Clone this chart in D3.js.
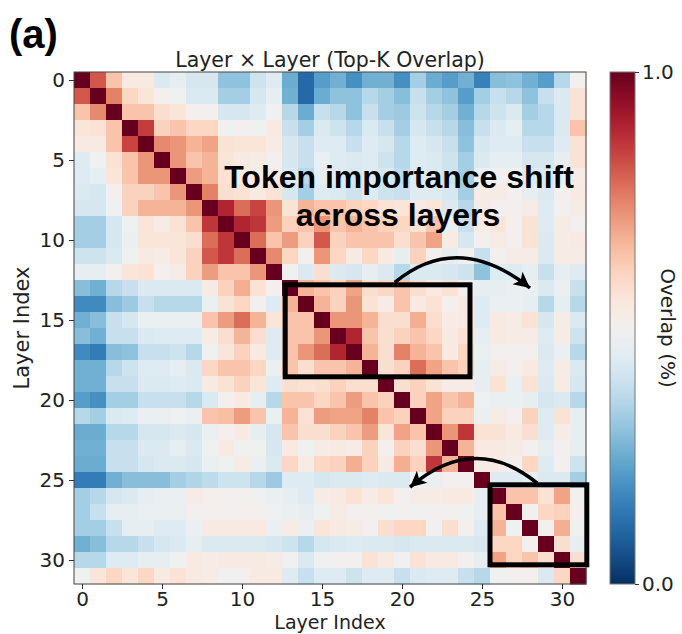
<!DOCTYPE html>
<html lang="en">
<head>
<meta charset="UTF-8">
<title>Layer x Layer (Top-K Overlap)</title>
<style>
  body { margin: 0; background: #fff; }
  svg { display: block; }
  .tick text { font-family: "DejaVu Sans", sans-serif; font-size: 20px; fill: #222; }
  .tick line { stroke: #333; }
  .domain { display: none; }
</style>
</head>
<body>
<div id="chart"></div>
<script src="https://d3js.org/d3.v7.min.js"></script>
<script>
// layer indices (rows = query layer, cols = compared layer)
const layers = [0,1,2,3,4,5,6,7,8,9,10,11,12,13,14,15,16,17,18,19,20,21,22,23,24,25,26,27,28,29,30,31];
const axisTicks = [0, 5, 10, 15, 20, 25, 30];
const colorTicks = [0.0, 1.0];

// top-k overlap (row by row)
const overlap = [
  [1.0,0.81,0.64,0.54,0.54,0.43,0.46,0.42,0.42,0.3,0.3,0.4,0.44,0.25,0.11,0.22, 0.26,0.19,0.26,0.26,0.19,0.33,0.25,0.22,0.26,0.16,0.29,0.3,0.26,0.22,0.36,0.5],
  [0.81,1.0,0.75,0.6,0.56,0.5,0.49,0.43,0.43,0.33,0.33,0.42,0.46,0.26,0.11,0.25, 0.3,0.3,0.36,0.33,0.29,0.39,0.33,0.3,0.22,0.33,0.39,0.36,0.3,0.39,0.43,0.57],
  [0.64,0.74,1.0,0.64,0.64,0.58,0.56,0.5,0.5,0.42,0.42,0.44,0.49,0.36,0.25,0.39, 0.36,0.3,0.39,0.33,0.32,0.4,0.36,0.33,0.26,0.36,0.4,0.43,0.33,0.36,0.43,0.57],
  [0.56,0.57,0.64,1.0,0.85,0.61,0.64,0.6,0.6,0.49,0.5,0.49,0.54,0.39,0.33,0.43, 0.4,0.36,0.43,0.39,0.33,0.42,0.39,0.36,0.29,0.39,0.43,0.46,0.36,0.36,0.43,0.64],
  [0.54,0.54,0.64,0.84,1.0,0.74,0.72,0.67,0.7,0.57,0.56,0.56,0.53,0.42,0.39,0.44, 0.44,0.39,0.44,0.42,0.36,0.44,0.42,0.39,0.3,0.42,0.44,0.44,0.39,0.39,0.44,0.57],
  [0.44,0.49,0.57,0.64,0.72,1.0,0.72,0.64,0.67,0.56,0.54,0.53,0.5,0.42,0.39,0.47, 0.44,0.43,0.44,0.4,0.36,0.44,0.43,0.4,0.33,0.43,0.46,0.46,0.42,0.42,0.46,0.57],
  [0.44,0.46,0.56,0.64,0.72,0.72,1.0,0.71,0.67,0.57,0.53,0.53,0.53,0.43,0.36,0.46, 0.44,0.42,0.44,0.42,0.37,0.44,0.43,0.4,0.33,0.47,0.5,0.49,0.44,0.43,0.47,0.53],
  [0.43,0.42,0.5,0.61,0.61,0.64,0.72,1.0,0.75,0.58,0.57,0.54,0.57,0.42,0.33,0.44, 0.43,0.4,0.44,0.4,0.39,0.44,0.44,0.42,0.33,0.53,0.53,0.5,0.46,0.43,0.5,0.54],
  [0.42,0.42,0.49,0.61,0.67,0.67,0.67,0.72,1.0,0.89,0.78,0.84,0.72,0.57,0.67,0.64, 0.64,0.61,0.6,0.57,0.56,0.54,0.56,0.43,0.36,0.53,0.5,0.5,0.53,0.44,0.5,0.53],
  [0.33,0.33,0.42,0.49,0.56,0.53,0.57,0.64,0.86,1.0,0.89,0.86,0.71,0.61,0.64,0.72, 0.64,0.67,0.64,0.61,0.6,0.57,0.64,0.47,0.39,0.53,0.56,0.5,0.57,0.44,0.53,0.5],
  [0.33,0.33,0.42,0.47,0.56,0.56,0.56,0.58,0.78,0.86,1.0,0.78,0.64,0.71,0.61,0.81, 0.61,0.64,0.64,0.64,0.58,0.64,0.7,0.53,0.42,0.5,0.53,0.5,0.57,0.43,0.53,0.54],
  [0.4,0.4,0.43,0.49,0.54,0.53,0.56,0.61,0.81,0.86,0.78,1.0,0.74,0.6,0.5,0.72, 0.6,0.54,0.6,0.54,0.46,0.61,0.5,0.46,0.5,0.39,0.5,0.53,0.53,0.43,0.53,0.53],
  [0.46,0.46,0.5,0.56,0.57,0.5,0.53,0.61,0.71,0.64,0.64,0.72,1.0,0.49,0.43,0.58, 0.43,0.42,0.46,0.43,0.36,0.43,0.43,0.42,0.4,0.3,0.44,0.44,0.46,0.39,0.46,0.44],
  [0.29,0.26,0.36,0.39,0.43,0.43,0.43,0.43,0.54,0.61,0.68,0.57,0.5,1.0,0.67,0.64, 0.61,0.7,0.58,0.6,0.64,0.58,0.54,0.57,0.5,0.46,0.46,0.47,0.47,0.43,0.47,0.39],
  [0.18,0.18,0.29,0.32,0.39,0.36,0.36,0.36,0.47,0.57,0.6,0.5,0.44,0.67,1.0,0.67, 0.61,0.72,0.57,0.53,0.64,0.54,0.57,0.5,0.54,0.44,0.47,0.47,0.46,0.36,0.46,0.36],
  [0.26,0.29,0.39,0.42,0.47,0.47,0.47,0.47,0.64,0.71,0.78,0.67,0.56,0.64,0.64,1.0, 0.72,0.72,0.67,0.58,0.58,0.68,0.58,0.53,0.54,0.44,0.54,0.53,0.57,0.42,0.53,0.43],
  [0.29,0.26,0.39,0.39,0.43,0.44,0.44,0.44,0.53,0.58,0.67,0.58,0.44,0.64,0.64,0.72, 1.0,0.89,0.64,0.58,0.61,0.64,0.6,0.54,0.57,0.46,0.54,0.53,0.53,0.44,0.53,0.4],
  [0.18,0.15,0.29,0.3,0.39,0.39,0.4,0.36,0.49,0.56,0.61,0.54,0.44,0.64,0.72,0.78, 0.89,1.0,0.67,0.58,0.75,0.67,0.64,0.54,0.6,0.47,0.5,0.5,0.5,0.43,0.47,0.36],
  [0.26,0.26,0.36,0.4,0.44,0.44,0.46,0.43,0.6,0.64,0.64,0.6,0.47,0.64,0.58,0.64, 0.64,0.67,1.0,0.58,0.61,0.78,0.7,0.64,0.61,0.46,0.53,0.5,0.54,0.44,0.53,0.43],
  [0.26,0.26,0.39,0.39,0.43,0.43,0.44,0.43,0.54,0.57,0.61,0.56,0.44,0.58,0.57,0.58, 0.61,0.58,0.58,1.0,0.58,0.61,0.57,0.53,0.53,0.46,0.57,0.47,0.57,0.43,0.53,0.42],
  [0.22,0.19,0.33,0.33,0.39,0.39,0.39,0.36,0.43,0.5,0.54,0.46,0.36,0.64,0.64,0.6, 0.64,0.71,0.64,0.61,1.0,0.61,0.7,0.64,0.67,0.49,0.47,0.47,0.46,0.42,0.43,0.36],
  [0.36,0.33,0.43,0.44,0.47,0.47,0.49,0.47,0.64,0.65,0.71,0.64,0.47,0.67,0.57,0.71, 0.7,0.7,0.75,0.64,0.61,1.0,0.7,0.61,0.61,0.47,0.53,0.5,0.61,0.44,0.57,0.46],
  [0.25,0.25,0.36,0.36,0.42,0.42,0.43,0.42,0.47,0.51,0.54,0.46,0.42,0.64,0.58,0.58, 0.61,0.64,0.71,0.56,0.7,0.64,1.0,0.72,0.86,0.57,0.57,0.54,0.58,0.44,0.53,0.46],
  [0.26,0.26,0.39,0.39,0.43,0.43,0.46,0.43,0.49,0.54,0.49,0.49,0.42,0.54,0.49,0.53, 0.54,0.53,0.61,0.5,0.61,0.58,0.72,1.0,0.67,0.54,0.54,0.53,0.5,0.46,0.5,0.46],
  [0.25,0.25,0.39,0.39,0.42,0.43,0.43,0.42,0.47,0.49,0.53,0.47,0.43,0.6,0.53,0.6, 0.61,0.68,0.61,0.54,0.68,0.61,0.86,0.67,1.0,0.53,0.53,0.5,0.6,0.44,0.5,0.4],
  [0.15,0.15,0.26,0.29,0.29,0.29,0.33,0.35,0.37,0.4,0.4,0.36,0.32,0.44,0.44,0.42, 0.43,0.43,0.44,0.43,0.43,0.49,0.47,0.5,0.5,1.0,0.44,0.44,0.46,0.43,0.43,0.33],
  [0.33,0.36,0.42,0.43,0.46,0.47,0.47,0.53,0.51,0.5,0.5,0.49,0.47,0.46,0.44,0.53, 0.54,0.57,0.53,0.56,0.5,0.53,0.53,0.54,0.54,0.46,1.0,0.64,0.64,0.57,0.7,0.5],
  [0.33,0.39,0.46,0.46,0.47,0.47,0.47,0.5,0.5,0.5,0.51,0.5,0.49,0.47,0.46,0.49, 0.53,0.5,0.5,0.49,0.5,0.49,0.5,0.5,0.49,0.46,0.64,1.0,0.5,0.6,0.61,0.51],
  [0.33,0.33,0.39,0.46,0.46,0.44,0.44,0.47,0.54,0.54,0.54,0.54,0.47,0.53,0.47,0.56, 0.54,0.53,0.5,0.58,0.6,0.6,0.49,0.58,0.5,0.44,0.67,0.49,1.0,0.5,0.68,0.49],
  [0.26,0.29,0.36,0.36,0.39,0.42,0.43,0.46,0.43,0.43,0.43,0.43,0.42,0.4,0.36,0.42, 0.43,0.44,0.43,0.43,0.42,0.43,0.43,0.43,0.43,0.42,0.6,0.6,0.5,1.0,0.58,0.46],
  [0.36,0.36,0.44,0.44,0.46,0.46,0.49,0.54,0.53,0.54,0.54,0.54,0.53,0.49,0.43,0.49, 0.5,0.5,0.57,0.54,0.49,0.57,0.54,0.54,0.5,0.46,0.7,0.6,0.64,0.58,1.0,0.58],
  [0.49,0.56,0.6,0.56,0.6,0.54,0.57,0.54,0.53,0.49,0.5,0.54,0.54,0.44,0.39,0.44, 0.44,0.4,0.44,0.44,0.39,0.43,0.44,0.44,0.39,0.36,0.49,0.5,0.5,0.43,0.6,1.0]
];

// annotation boxes and arrows, in layer-index units
const boxes = [
  { x0: 12.7, x1: 24.25, y0: 12.8, y1: 18.55 },
  { x0: 25.5, x1: 31.55, y0: 25.3, y1: 30.3 }
];
const arrows = [
  { from: [19.55, 12.65], ctrl: [23.5, 9.4], to: [28.0, 13.0] },
  { from: [28.45, 25.2], ctrl: [24.5, 22.0], to: [20.5, 25.45] }
];

const W = 682, H = 634;
const plotLeft = 74, plotTop = 72, size = 512;

const svg = d3.select("#chart").append("svg")
  .attr("width", W).attr("height", H)
  .style("font-family", "'DejaVu Sans', sans-serif");

const x = d3.scaleBand().domain(layers).range([plotLeft, plotLeft + size]);
const y = d3.scaleBand().domain(layers).range([plotTop, plotTop + size]);
const xl = d3.scaleLinear().domain([-0.5, 31.5]).range([plotLeft, plotLeft + size]);
const yl = d3.scaleLinear().domain([-0.5, 31.5]).range([plotTop, plotTop + size]);
const color = v => d3.interpolateRdBu(1 - v);

// cells
const cells = [];
overlap.forEach((row, i) => row.forEach((v, j) => cells.push({ i, j, v })));
svg.append("g").selectAll("rect").data(cells).join("rect")
  .attr("x", d => x(d.j))
  .attr("y", d => y(d.i))
  .attr("width", x.bandwidth() + 0.5)
  .attr("height", y.bandwidth() + 0.5)
  .attr("fill", d => color(d.v));

svg.append("rect")
  .attr("x", plotLeft).attr("y", plotTop).attr("width", size).attr("height", size)
  .attr("fill", "none").attr("stroke", "#444").attr("stroke-width", 1);

// axes
svg.append("g")
  .attr("transform", `translate(0,${plotTop + size})`)
  .call(d3.axisBottom(xl).tickValues(axisTicks).tickSize(5).tickPadding(3));
svg.append("g")
  .attr("transform", `translate(${plotLeft},0)`)
  .call(d3.axisLeft(yl).tickValues(axisTicks).tickSize(5).tickPadding(4));

svg.append("text")
  .attr("x", plotLeft + size / 2).attr("y", 629)
  .attr("text-anchor", "middle")
  .attr("font-size", 19).attr("fill", "#222")
  .text("Layer Index");
svg.append("text")
  .attr("transform", `translate(29,${plotTop + size / 2}) rotate(-90)`)
  .attr("text-anchor", "middle")
  .attr("font-size", 21).attr("fill", "#222")
  .text("Layer Index");

svg.append("text")
  .attr("x", 330).attr("y", 67)
  .attr("text-anchor", "middle")
  .attr("font-size", 20.5).attr("fill", "#222")
  .text("Layer × Layer (Top-K Overlap)");

svg.append("text")
  .attr("x", 9).attr("y", 48)
  .attr("font-family", "'Liberation Sans', Arial, sans-serif")
  .attr("font-weight", "bold").attr("font-size", 40).attr("fill", "#000")
  .text("(a)");

// colorbar
const cbX = 610, cbW = 25;
const cb = d3.scaleLinear().domain([0, 1]).range([plotTop + size, plotTop]);
const grad = svg.append("defs").append("linearGradient")
  .attr("id", "cbar").attr("x1", 0).attr("y1", 1).attr("x2", 0).attr("y2", 0);
grad.selectAll("stop").data(d3.range(0, 1.0001, 0.05)).join("stop")
  .attr("offset", d => d).attr("stop-color", d => color(d));
svg.append("rect")
  .attr("x", cbX).attr("y", plotTop).attr("width", cbW).attr("height", size)
  .attr("fill", "url(#cbar)").attr("stroke", "#777").attr("stroke-width", 1);
svg.append("g")
  .attr("transform", `translate(${cbX + cbW},0)`)
  .call(d3.axisRight(cb).tickValues(colorTicks).tickFormat(d3.format(".1f")).tickSize(4).tickPadding(3));
svg.append("text")
  .attr("transform", `translate(661,${plotTop + size / 2}) rotate(90)`)
  .attr("text-anchor", "middle")
  .attr("font-size", 20).attr("fill", "#222")
  .text("Overlap (%)");

// annotations
svg.append("defs").append("marker")
  .attr("id", "head").attr("markerUnits", "userSpaceOnUse")
  .attr("viewBox", "-17 -9 19 18").attr("refX", 0).attr("refY", 0)
  .attr("markerWidth", 19).attr("markerHeight", 18).attr("orient", "auto")
  .append("path").attr("d", "M0,0 L-16,-8 L-12,0 L-16,8 Z").attr("fill", "#000");

svg.append("g").selectAll("rect").data(boxes).join("rect")
  .attr("x", d => xl(d.x0)).attr("y", d => yl(d.y0))
  .attr("width", d => xl(d.x1) - xl(d.x0)).attr("height", d => yl(d.y1) - yl(d.y0))
  .attr("fill", "none").attr("stroke", "#000").attr("stroke-width", 5);

svg.append("g").selectAll("path").data(arrows).join("path")
  .attr("d", d => `M${xl(d.from[0])},${yl(d.from[1])} Q${xl(d.ctrl[0])},${yl(d.ctrl[1])} ${xl(d.to[0])},${yl(d.to[1])}`)
  .attr("fill", "none").attr("stroke", "#000").attr("stroke-width", 3.5)
  .attr("marker-end", "url(#head)");

const note = svg.append("text")
  .attr("text-anchor", "middle")
  .attr("font-family", "'Liberation Sans', Arial, sans-serif")
  .attr("font-weight", "bold").attr("font-size", 32).attr("fill", "#000");
note.append("tspan").attr("x", 399).attr("y", 188).text("Token importance shift");
note.append("tspan").attr("x", 398).attr("y", 226).text("across layers");
</script>
</body>
</html>
